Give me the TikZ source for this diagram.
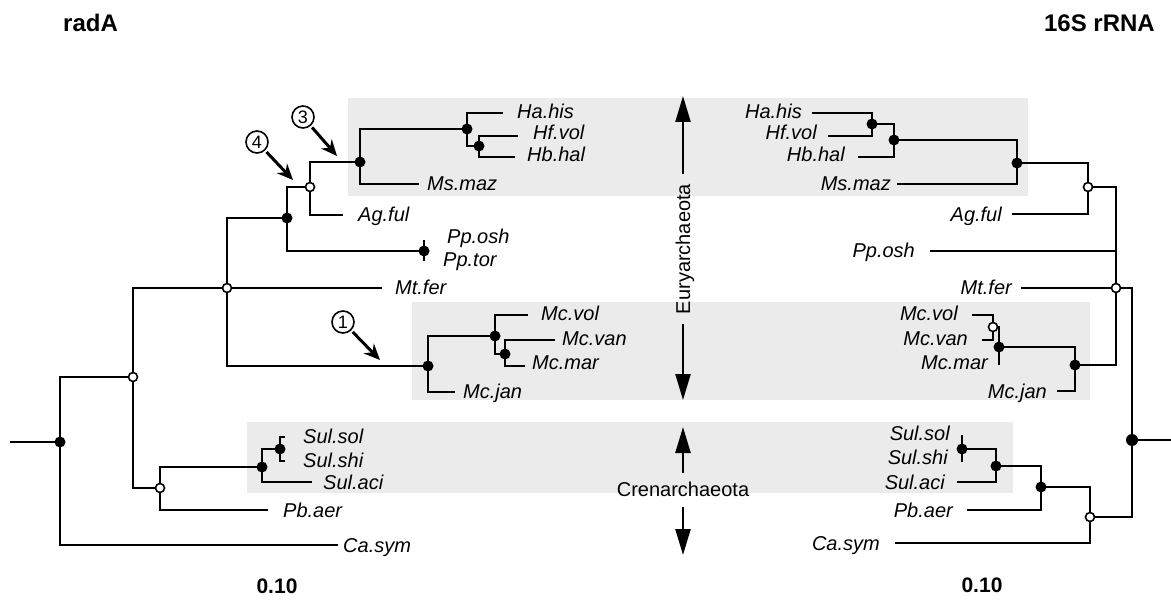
\documentclass[tikz,border=0pt]{standalone}
\usepackage{fontspec}
\setmainfont{Liberation Sans}
\usetikzlibrary{arrows.meta}
\begin{document}
\begin{tikzpicture}[x=1pt,y=-1pt,
 br/.style={line width=2.4pt},
 fdot/.style={circle,fill=black,inner sep=0pt,minimum size=11pt},
 odot/.style={circle,draw=black,fill=white,line width=1.6pt,inner sep=0pt,minimum size=9pt},
 tax/.style={font=\fontsize{20}{22}\selectfont\itshape,inner sep=0pt,text height=14pt,text depth=0pt},
 taxL/.style={tax,anchor=west},
 taxR/.style={tax,anchor=east},
 head/.style={font=\fontsize{24}{28}\selectfont\bfseries,inner sep=0pt},
 scalelab/.style={font=\fontsize{21}{24}\selectfont\bfseries,inner sep=0pt},
 clade/.style={font=\fontsize{20}{22}\selectfont,inner sep=0pt,text height=14pt,text depth=0pt},
 bigarrow/.style={line width=2.4pt,-{Triangle[length=26pt,width=15pt]}},
 numarrow/.style={line width=3pt,-{Stealth[length=16pt,width=14pt]}},
 numc/.style={circle,draw,line width=1.6pt,minimum size=22pt,inner sep=0pt,font=\fontsize{18}{19}\selectfont},
 shade/.style={fill=black!8,draw=none}
]
\useasboundingbox (0,0) rectangle (1171,604);

% shaded clade boxes
\fill[shade] (348,98) rectangle (1028,196);
\fill[shade] (412,302) rectangle (1090,400);
\fill[shade] (247,422) rectangle (1013,493);

% headings
\node[head,anchor=west] (radA) at (63,23) {radA};
\node[head,anchor=east] (rrna) at (1155,23) {16S rRNA};
\node[scalelab] (sL) at (277,586) {0.10};
\node[scalelab] (sR) at (982,585) {0.10};

% ---------------- left tree (radA) ----------------
\coordinate (Lstub) at (10,442);
\coordinate (Lroot) at (60,442);
\coordinate (La) at (133,377);
\coordinate (Lmt) at (227,288);
\coordinate (Lpp) at (287,218);
\coordinate (Lag) at (310,187);
\coordinate (Lms) at (360,162);
\coordinate (Lha) at (467,129);
\coordinate (Lhb) at (479,146);
\coordinate (Lppt) at (424,251);
\coordinate (Lmc) at (428,366);
\coordinate (Lmv) at (495,336);
\coordinate (Lmm) at (505,354);
\coordinate (Lcr) at (160,488);
\coordinate (Lsa) at (262,467);
\coordinate (Lss) at (280,449);
\coordinate (eHa) at (503,113);
\coordinate (eHf) at (518,136);
\coordinate (eHb) at (515,157);
\coordinate (eMs) at (419,184);
\coordinate (eAg) at (343,215);
\coordinate (eMt) at (382,288);
\coordinate (eMv) at (528,315);
\coordinate (eMva) at (555,340);
\coordinate (eMm) at (525,366);
\coordinate (eMj) at (455,392);
\coordinate (eSa) at (312,482);
\coordinate (ePb) at (268,510);
\coordinate (eCa) at (338,545);
\coordinate (tSs1) at (285,437);
\coordinate (tSs2) at (285,461);
\coordinate (tPp1) at (424,240);
\coordinate (tPp2) at (424,261);

\draw[br] (Lstub) -- (Lroot);
\draw[br] (Lroot) |- (La);
\draw[br] (Lroot) |- (eCa);
\draw[br] (La) |- (Lmt);
\draw[br] (La) |- (Lcr);
\draw[br] (Lmt) |- (Lpp);
\draw[br] (Lmt) -- (eMt);
\draw[br] (Lmt) |- (Lmc);
\draw[br] (Lpp) |- (Lag);
\draw[br] (Lpp) |- (Lppt);
\draw[br] (Lag) |- (Lms);
\draw[br] (Lag) |- (eAg);
\draw[br] (Lms) |- (Lha);
\draw[br] (Lms) |- (eMs);
\draw[br] (Lha) |- (eHa);
\draw[br] (Lha) |- (Lhb);
\draw[br] (Lhb) |- (eHf);
\draw[br] (Lhb) |- (eHb);
\draw[br] (Lmc) |- (Lmv);
\draw[br] (Lmc) |- (eMj);
\draw[br] (Lmv) |- (eMv);
\draw[br] (Lmv) |- (Lmm);
\draw[br] (Lmm) |- (eMva);
\draw[br] (Lmm) |- (eMm);
\draw[br] (Lcr) |- (Lsa);
\draw[br] (Lcr) |- (ePb);
\draw[br] (Lsa) |- (Lss);
\draw[br] (Lsa) |- (eSa);
\draw[br] (tSs1) -| (Lss);
\draw[br] (tSs2) -| (Lss);
\draw[br] (tPp1) -- (tPp2);

\foreach \c in {Lroot,Lpp,Lms,Lha,Lhb,Lppt,Lmc,Lmv,Lmm,Lsa,Lss}
  \node[fdot] (d\c) at (\c) {};
\foreach \c in {La,Lmt,Lag,Lcr}
  \node[odot] (d\c) at (\c) {};

\node[taxL] (lHa) at (517,112) {Ha.his};
\node[taxL] (lHf) at (533,133) {Hf.vol};
\node[taxL] (lHb) at (527,155) {Hb.hal};
\node[taxL] (lMs) at (427,184) {Ms.maz};
\node[taxL] (lAg) at (358,215) {Ag.ful};
\node[taxL] (lPo) at (447,237) {Pp.osh};
\node[taxL] (lPt) at (443,260) {Pp.tor};
\node[taxL] (lMt) at (395,288) {Mt.fer};
\node[taxL] (lMv) at (541,313) {Mc.vol};
\node[taxL] (lMva) at (562,338) {Mc.van};
\node[taxL] (lMm) at (532,363) {Mc.mar};
\node[taxL] (lMj) at (463,391) {Mc.jan};
\node[taxL] (lSs) at (303,436) {Sul.sol};
\node[taxL] (lSh) at (303,460) {Sul.shi};
\node[taxL] (lSa) at (323,482) {Sul.aci};
\node[taxL] (lPb) at (283,510) {Pb.aer};
\node[taxL] (lCa) at (343,545) {Ca.sym};

% numbered arrows
\node[numc] (n3) at (303,117) {3};
\node[numc] (n4) at (257,142) {4};
\node[numc] (n1) at (343,322) {1};
\coordinate (a3) at (337,156);
\coordinate (a4) at (293,180);
\coordinate (a1) at (380,360);
\draw[numarrow,shorten <=2pt] (n3) -- (a3);
\draw[numarrow,shorten <=2pt] (n4) -- (a4);
\draw[numarrow,shorten <=2pt] (n1) -- (a1);

% ---------------- right tree (16S rRNA) ----------------
\coordinate (Rstub) at (1171,440);
\coordinate (Rroot) at (1132,440);
\coordinate (Rmt) at (1116,288);
\coordinate (Rag) at (1088,187);
\coordinate (Rms) at (1017,163);
\coordinate (Rhb) at (894,140);
\coordinate (Rhh) at (872,124);
\coordinate (Rmcj) at (1075,365);
\coordinate (Rmcm) at (999,347);
\coordinate (Rvv) at (993,327);
\coordinate (Rcr) at (1090,517);
\coordinate (Rpb) at (1041,487);
\coordinate (Rsa) at (996,466);
\coordinate (Rss) at (962,449);
\coordinate (fHa) at (812,113);
\coordinate (fHf) at (828,136);
\coordinate (fHb) at (858,157);
\coordinate (fMs) at (897,184);
\coordinate (fAg) at (1012,214);
\coordinate (fPp) at (930,251);
\coordinate (fMt) at (1021,288);
\coordinate (fMv) at (972,315);
\coordinate (fMva) at (982,340);
\coordinate (fMm) at (999,365);
\coordinate (fMj) at (1057,391);
\coordinate (fSs1) at (962,435);
\coordinate (fSs2) at (962,462);
\coordinate (fSa) at (957,482);
\coordinate (fPb) at (967,510);
\coordinate (fCa) at (895,543);

\draw[br] (Rstub) -- (Rroot);
\draw[br] (Rroot) |- (Rmt);
\draw[br] (Rroot) |- (Rcr);
\draw[br] (Rmt) |- (Rag);
\draw[br] (Rmt) |- (fPp);
\draw[br] (Rmt) -- (fMt);
\draw[br] (Rmt) |- (Rmcj);
\draw[br] (Rag) |- (Rms);
\draw[br] (Rag) |- (fAg);
\draw[br] (Rms) |- (Rhb);
\draw[br] (Rms) |- (fMs);
\draw[br] (Rhb) |- (Rhh);
\draw[br] (Rhb) |- (fHb);
\draw[br] (Rhh) |- (fHa);
\draw[br] (Rhh) |- (fHf);
\draw[br] (Rmcj) |- (Rmcm);
\draw[br] (Rmcj) |- (fMj);
\draw[br] (Rmcm) |- (Rvv);
\draw[br] (Rmcm) -- (fMm);
\draw[br] (Rvv) |- (fMv);
\draw[br] (Rvv) |- (fMva);
\draw[br] (Rcr) |- (Rpb);
\draw[br] (Rcr) |- (fCa);
\draw[br] (Rpb) |- (Rsa);
\draw[br] (Rpb) |- (fPb);
\draw[br] (Rsa) |- (Rss);
\draw[br] (Rsa) |- (fSa);
\draw[br] (fSs1) -- (fSs2);

\node[fdot,minimum size=12pt] (dRroot) at (Rroot) {};
\foreach \c in {Rms,Rhb,Rhh,Rmcj,Rmcm,Rpb,Rsa,Rss}
  \node[fdot] (d\c) at (\c) {};
\foreach \c in {Rag,Rmt,Rvv,Rcr}
  \node[odot] (d\c) at (\c) {};

\node[taxR] (rHa) at (802,112) {Ha.his};
\node[taxR] (rHf) at (817,133) {Hf.vol};
\node[taxR] (rHb) at (845,155) {Hb.hal};
\node[taxR] (rMs) at (891,184) {Ms.maz};
\node[taxR] (rAg) at (1002,215) {Ag.ful};
\node[taxR] (rPo) at (915,251) {Pp.osh};
\node[taxR] (rMt) at (1012,288) {Mt.fer};
\node[taxR] (rMv) at (958,313) {Mc.vol};
\node[taxR] (rMva) at (968,338) {Mc.van};
\node[taxR] (rMm) at (988,362) {Mc.mar};
\node[taxR] (rMj) at (1047,391) {Mc.jan};
\node[taxR] (rSs) at (950,433) {Sul.sol};
\node[taxR] (rSh) at (948,457) {Sul.shi};
\node[taxR] (rSa) at (945,482) {Sul.aci};
\node[taxR] (rPb) at (953,510) {Pb.aer};
\node[taxR] (rCa) at (880,543) {Ca.sym};

% ---------------- clade arrows ----------------
\node[clade,rotate=90] (eury) at (683,249) {Euryarchaeota};
\coordinate (euUp) at (683,96);
\coordinate (euDn) at (683,400);
\draw[bigarrow,shorten <=10pt] (eury.east) -- (euUp);
\draw[bigarrow,shorten <=10pt] (eury.west) -- (euDn);
\node[clade] (cren) at (683,489) {Crenarchaeota};
\coordinate (crUp) at (683,427);
\coordinate (crDn) at (683,555);
\draw[bigarrow,shorten <=9pt] (cren.north) -- (crUp);
\draw[bigarrow,shorten <=11pt] (cren.south) -- (crDn);
\end{tikzpicture}
\end{document}
